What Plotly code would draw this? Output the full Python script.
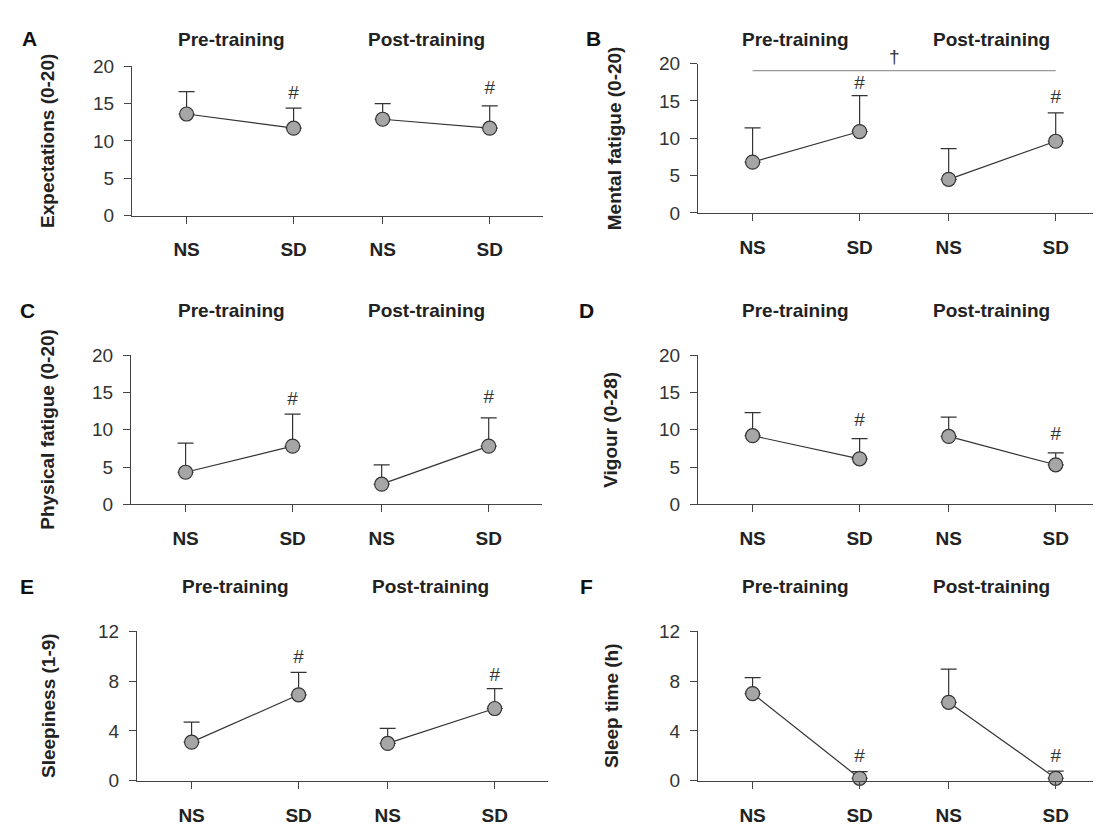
import plotly.graph_objects as go

# ---------------- data ----------------
tick_labels = ["NS", "SD", "NS", "SD"]
phases = ["Pre-training", "Post-training"]

expectations_mean = [13.6, 11.7, 12.9, 11.7]
expectations_err = [3.0, 2.7, 2.1, 3.0]
expectations_sig = [16.3, 16.9]

mental_mean = [6.8, 10.9, 4.5, 9.6]
mental_err = [4.6, 4.8, 4.1, 3.8]
mental_sig = [17.2, 15.3]
mental_bracket = 19.05
mental_dagger = 20.9

physical_mean = [4.3, 7.8, 2.7, 7.8]
physical_err = [3.9, 4.3, 2.6, 3.8]
physical_sig = [14.0, 14.2]

vigour_mean = [9.2, 6.1, 9.1, 5.3]
vigour_err = [3.1, 2.7, 2.6, 1.6]
vigour_sig = [11.2, 9.2]

sleepiness_mean = [3.1, 6.9, 3.0, 5.8]
sleepiness_err = [1.6, 1.8, 1.2, 1.6]
sleepiness_sig = [9.87, 8.43]

sleeptime_mean = [7.0, 0.2, 6.3, 0.2]
sleeptime_err = [1.28, 0.53, 2.67, 0.57]
sleeptime_sig = [1.85, 1.85]

# ---------------- layout constants ----------------
W, H = 1101, 825
XPOS = [0, 1, 1.832, 2.832]
XRANGE = [-0.51, 3.33]
PW = 411
FONT = "Liberation Sans, Arial, sans-serif"
DARK = "#333333"
AXC = "#444444"

panels = [
    dict(letter="A", mean=expectations_mean, err=expectations_err, sig=expectations_sig,
         ytitle="Expectations (0-20)", ymax=20, dtick=5, left=124, top=49.5, bottom=202.7,
         yt_x=40, titles_x=(223.5, 418), title_y=21.7, let_xy=(21, 21)),
    dict(letter="B", mean=mental_mean, err=mental_err, sig=mental_sig,
         ytitle="Mental fatigue (0-20)", ymax=20, dtick=5, left=690, top=46.8, bottom=200,
         yt_x=606, titles_x=(787.7, 983), title_y=21.7, let_xy=(585, 21)),
    dict(letter="C", mean=physical_mean, err=physical_err, sig=physical_sig,
         ytitle="Physical fatigue (0-20)", ymax=20, dtick=5, left=123, top=346, bottom=499,
         yt_x=40, titles_x=(223.5, 418), title_y=300, let_xy=(19, 300)),
    dict(letter="D", mean=vigour_mean, err=vigour_err, sig=vigour_sig,
         ytitle="Vigour (0-28)", ymax=20, dtick=5, left=690, top=346, bottom=499,
         yt_x=603, titles_x=(787.7, 983), title_y=300, let_xy=(578, 300)),
    dict(letter="E", mean=sleepiness_mean, err=sleepiness_err, sig=sleepiness_sig,
         ytitle="Sleepiness (1-9)", ymax=12, dtick=4, left=129, top=629.3, bottom=782.7,
         yt_x=40, titles_x=(227, 422), title_y=583.3, let_xy=(19, 583)),
    dict(letter="F", mean=sleeptime_mean, err=sleeptime_err, sig=sleeptime_sig,
         ytitle="Sleep time (h)", ymax=12, dtick=4, left=690, top=629.3, bottom=782.7,
         yt_x=603, titles_x=(787.7, 983), title_y=583.3, let_xy=(578, 583)),
]

fig = go.Figure()
annotations = []
layout = {}

def px(x):
    return x / W

def py(y):
    return 1 - y / H

for i, p in enumerate(panels, start=1):
    xa = "x" if i == 1 else f"x{i}"
    ya = "y" if i == 1 else f"y{i}"
    xkey = "xaxis" if i == 1 else f"xaxis{i}"
    ykey = "yaxis" if i == 1 else f"yaxis{i}"
    xdom = [px(p["left"]), min(1.0, px(p["left"] + PW))]
    ydom = [py(p["bottom"]), py(p["top"])]

    layout[xkey] = dict(
        domain=xdom,
        range=XRANGE, anchor=ya, showgrid=False, zeroline=False,
        showline=True, linecolor=AXC, linewidth=1.3,
        ticks="outside", ticklen=7, tickwidth=1.3, tickcolor=AXC,
        tickvals=XPOS, ticktext=tick_labels, ticklabelstandoff=10,
        tickfont=dict(family=FONT, size=19, color="#222222", weight="bold"),
        fixedrange=True,
    )
    layout[ykey] = dict(
        domain=ydom,
        range=[0, p["ymax"]], dtick=p["dtick"], tick0=0, anchor=xa,
        showgrid=False, zeroline=False,
        showline=True, linecolor=AXC, linewidth=1.3,
        ticks="outside", ticklen=7, tickwidth=1.3, tickcolor=AXC,
        ticklabelstandoff=6,
        tickfont=dict(family=FONT, size=19, color=DARK),
        fixedrange=True,
    )

    # two phases, each NS -> SD
    for k in range(2):
        idx = [2 * k, 2 * k + 1]
        fig.add_trace(go.Scatter(
            x=[XPOS[j] for j in idx], y=[p["mean"][j] for j in idx],
            xaxis=xa, yaxis=ya, mode="lines+markers", cliponaxis=False,
            line=dict(color=DARK, width=1.2),
            marker=dict(size=14, color="#a6a6a6", line=dict(color=DARK, width=1.2)),
            error_y=dict(type="data", symmetric=False,
                         array=[p["err"][j] for j in idx], arrayminus=[0, 0],
                         color=DARK, thickness=1.2, width=8),
            showlegend=False, hoverinfo="skip",
        ))

    # significance markers above SD points
    fig.add_trace(go.Scatter(
        x=[XPOS[1], XPOS[3]], y=p["sig"], xaxis=xa, yaxis=ya,
        mode="text", text=["#", "#"], textposition="middle center", cliponaxis=False,
        textfont=dict(family=FONT, size=19, color=DARK),
        showlegend=False, hoverinfo="skip",
    ))

    if p["letter"] == "B":
        fig.add_trace(go.Scatter(
            x=[XPOS[0], XPOS[3]], y=[mental_bracket, mental_bracket], xaxis=xa, yaxis=ya,
            mode="lines", cliponaxis=False, line=dict(color="#999999", width=1.2),
            showlegend=False, hoverinfo="skip",
        ))
        # dagger sits above the axis range; map data -> paper through the axis
        dag_x = 1.33
        fx = xdom[0] + (dag_x - XRANGE[0]) / (XRANGE[1] - XRANGE[0]) * (xdom[1] - xdom[0])
        fy = ydom[0] + (mental_dagger / p["ymax"]) * (ydom[1] - ydom[0])
        annotations.append(dict(
            x=fx, y=fy, xref="paper", yref="paper", text="†", showarrow=False,
            font=dict(family=FONT, size=19, color=DARK), xanchor="center", yanchor="middle",
        ))

    # panel letter
    annotations.append(dict(
        x=px(p["let_xy"][0]), y=py(p["let_xy"][1]), xref="paper", yref="paper",
        text=f"<b>{p['letter']}</b>", showarrow=False, xanchor="center", yanchor="middle",
        font=dict(family=FONT, size=21, color="#111111"),
    ))
    # phase titles
    for tx, t in zip(p["titles_x"], phases):
        annotations.append(dict(
            x=px(tx), y=py(p["title_y"]), xref="paper", yref="paper",
            text=f"<b>{t}</b>", showarrow=False, xanchor="center", yanchor="middle",
            font=dict(family=FONT, size=19, color="#222222"),
        ))
    # y-axis title
    annotations.append(dict(
        x=px(p["yt_x"]), y=py((p["top"] + p["bottom"]) / 2), xref="paper", yref="paper",
        text=f"<b>{p['ytitle']}</b>", showarrow=False, textangle=-90,
        xanchor="center", yanchor="middle",
        font=dict(family=FONT, size=19, color="#222222"),
    ))

fig.update_layout(
    width=W, height=H, autosize=False,
    margin=dict(l=0, r=0, t=0, b=0, pad=0),
    paper_bgcolor="white", plot_bgcolor="white",
    showlegend=False, annotations=annotations,
    **layout,
)

fig.write_html("out.html", config={"displayModeBar": False})
